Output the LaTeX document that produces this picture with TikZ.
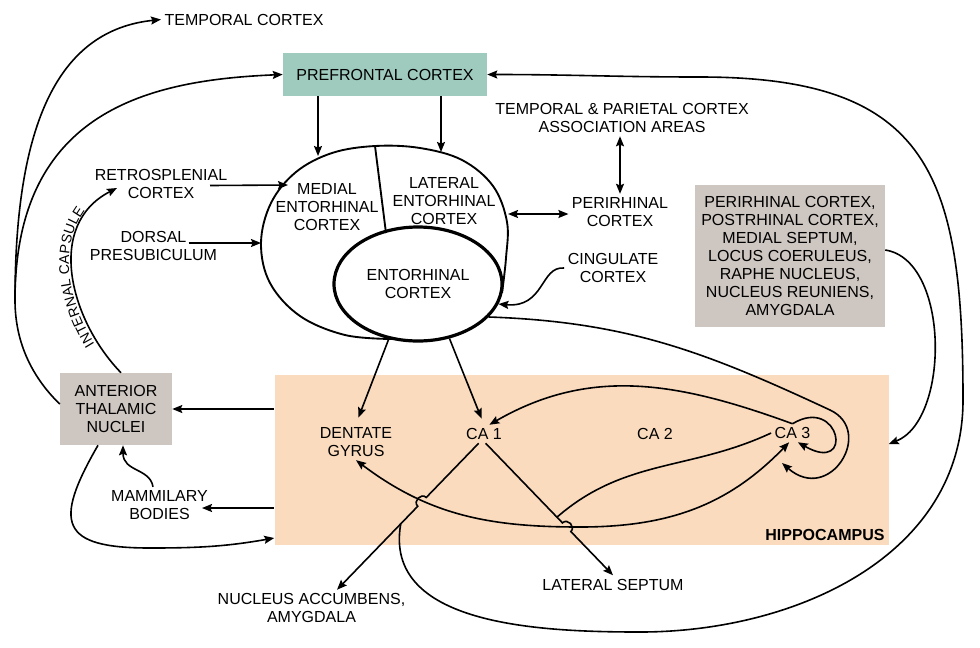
\documentclass[tikz,border=0pt]{standalone}
\usepackage{fontspec}
\setmainfont{Liberation Sans}
\usetikzlibrary{arrows.meta,shapes.geometric,calc,decorations.text}

\definecolor{pfcteal}{RGB}{158,203,190}
\definecolor{nucgray}{RGB}{206,198,192}
\definecolor{hippeach}{RGB}{250,219,190}

\begin{document}
\begin{tikzpicture}[x=0.75pt, y=-0.75pt, >={Stealth[length=7.5pt,width=6pt,inset=1.2pt]},
  font=\fontsize{12}{13.5}\selectfont,
  conn/.style={line width=1.2pt},
  lbl/.style={align=center, inner sep=2.5pt},
  tintbox/.style={lbl, fill=#1},
]
\useasboundingbox (0,0) rectangle (980,647);

% ---------------- boxes ----------------
\node[tintbox=hippeach, minimum width=460.5pt, minimum height=127.5pt] (hippo) at (581.5,460) {};
\node[anchor=south east, inner sep=3pt, font=\bfseries\fontsize{12}{13.5}\selectfont] (hiplbl) at (hippo.south east) {HIPPOCAMPUS};
\node[tintbox=pfcteal, minimum width=153pt, minimum height=32pt] (pfc) at (385,74.5) {PREFRONTAL CORTEX};
\node[tintbox=nucgray, minimum width=84pt, minimum height=54pt] (atn) at (116,409) {ANTERIOR\\THALAMIC\\NUCLEI};
\node[tintbox=nucgray, minimum width=142.5pt, minimum height=106.5pt] (inputs) at (790,256)
  {PERIRHINAL CORTEX,\\POSTRHINAL CORTEX,\\MEDIAL SEPTUM,\\LOCUS COERULEUS,\\RAPHE NUCLEUS,\\NUCLEUS REUNIENS,\\AMYGDALA};

% ---------------- plain labels ----------------
\node[lbl] (temporal) at (244,19.5) {TEMPORAL CORTEX};
\node[lbl] (retro) at (161,183.5) {RETROSPLENIAL\\CORTEX};
\node[lbl] (dorsal) at (153.5,245.5) {DORSAL\\PRESUBICULUM};
\node[lbl] (tpca) at (622,118) {TEMPORAL \& PARIETAL CORTEX\\ASSOCIATION AREAS};
\node[lbl] (peri) at (620,212) {PERIRHINAL\\CORTEX};
\node[lbl] (cing) at (613,268) {CINGULATE\\CORTEX};
\node[lbl] (mamm) at (159.5,505) {MAMMILARY\\BODIES};
\node[lbl] (dg) at (356,442) {DENTATE\\GYRUS};
\node[lbl] (ca1) at (484,434) {CA 1};
\node[lbl] (ca2) at (655,434) {CA 2};
\node[lbl] (ca3) at (792.5,433) {CA 3};
\node[lbl] (nacc) at (311.5,608) {NUCLEUS ACCUMBENS,\\AMYGDALA};
\node[lbl] (lsep) at (613,584.5) {LATERAL SEPTUM};

% ---------------- entorhinal cortex ----------------
\draw[line width=1.4pt] plot[smooth, tension=0.6] coordinates {(502,293) (506,258) (507,222) (493,186)
  (462,160) (420,148) (375,146) (332,153) (296,172) (271,203) (261,243) (270,283) (300,316) (345,335) (392,339)};
\draw[line width=1.4pt] (375,146) -- (386,233);
\node[lbl] (mec) at (327,207) {MEDIAL\\ENTORHINAL\\CORTEX};
\node[lbl] (lec) at (444,201) {LATERAL\\ENTORHINAL\\CORTEX};
\node[draw, ellipse, line width=2.4pt, minimum width=126pt, minimum height=85.5pt, inner sep=0pt, align=center]
  (ento) at (418,284) {ENTORHINAL\\CORTEX};

% ---------------- inputs to the entorhinal cortex ----------------
\coordinate (mecin) at (318,156);
\coordinate (lecin) at (441,152);
\coordinate (retroin) at (288,185);
\coordinate (dorsalin) at (261,243);
\coordinate (periin) at (508,214);
\draw[conn,->] (pfc.south -| mecin) -- (mecin);
\draw[conn,->] (pfc.south -| lecin) -- (lecin);
\draw[conn,->] ($(retro.center)+(49,2)$) -- (retroin);
\draw[conn,->] ($(dorsal.center)+(35,-2.5)$) -- (dorsalin);
\draw[conn,<->] (periin) -- (peri.west |- periin);
\draw[conn,<->] (tpca.south -| peri.north) -- (peri.north);
\draw[conn,->] (cing.west) .. controls (540,266) and (545,308) .. (ento.-14);

% ---------------- entorhinal cortex -> hippocampus ----------------
\draw[conn,->,shorten >=5pt] (ento.-118) -- (dg.north);
\draw[conn,->,shorten >=5pt] (ento.-60) -- (ca1.north);
\coordinate (ca3in) at (782,463);
\draw[conn,->] (ento.-25) to[out=-2,in=155] (830,410) .. controls (875,431) and (830,505) .. (ca3in);

% ---------------- inside the hippocampus ----------------
\draw[conn,->] (ca3.north) to[out=160,in=30] (ca1.60);
\draw[conn,->] (ca3.north) .. controls (840,395) and (855,475) .. (ca3.-60);
\draw[conn,<->] (dg.south) to[out=-37,in=180] (580,527) to[out=0,in=226] (ca3.-110);

% ---------------- CA1 / CA3 outputs ----------------
\coordinate (ca1sw) at (ca1.-120);
\coordinate (naccin) at (nacc.north -| 337,0);
\coordinate (ca1se) at (ca1.-80);
\coordinate (lsmerge) at ($(ca1se)!.56!(lsep.north)$);
\coordinate (pfcback) at ($(ca1sw)!.55!(naccin)$);
\draw[conn,->] (ca1sw) -- ($(ca1sw)!.37!(naccin)$) to[bend right=90,looseness=1.5] ($(ca1sw)!.43!(naccin)$) -- (naccin);
\draw[conn,->] (ca1se) -- ($(ca1se)!.603!(lsep.north)$) to[bend left=90,looseness=1.5] ($(ca1se)!.669!(lsep.north)$) -- (lsep.north);
\draw[conn] (ca3.west) to[out=205,in=41] (lsmerge);
\draw[conn,->] (pfcback) to[out=-100,in=180] (640,632) to[out=0,in=-90] (963,400)
  to[out=90,in=0,looseness=1.4] (700,77) to[out=180,in=0] (pfc.east);

% ---------------- hippocampus <-> thalamus, mammillary bodies ----------------
\coordinate (mammin) at (202,508);
\draw[conn,->] (hippo.west |- atn.east) -- (atn.east);
\draw[conn,->] (hippo.west |- mammin) -- (mammin);
\draw[conn,->] (mamm.north -| 153,0) .. controls (150,468) and (123,472) .. (atn.south -| 123,0);
\draw[conn,->] (atn.south -| 98,0) to[out=-120,in=180,looseness=2] (150,548) to[out=0,in=190] (hippo.west |- 0,538);
\draw[conn,->] (inputs.east |- 0,250) .. controls (950,260) and (950,420) .. (hippo.east |- 0,444);

% ---------------- anterior thalamic projections ----------------
\coordinate (split) at (15,300);
\coordinate (retroup) at (117,188);
\draw[conn] (atn.175) .. controls (30,375) and (15,340) .. (split);
\draw[conn,->] (split) .. controls (15,120) and (60,30) .. (temporal.west);
\draw[conn,->] (split) .. controls (15,110) and (150,80) .. (pfc.west);
\draw[conn,->] (atn.north -| 121,0) .. controls (70,320) and (45,225) .. (retroup);
\path[decorate, decoration={text along path, text align=center, raise=2.5pt,
  text={|\fontsize{10.5}{12}\selectfont|INTERNAL CAPSULE}}]
  (atn.north -| 121,0) .. controls (70,320) and (45,225) .. (retroup);
\end{tikzpicture}
\end{document}
